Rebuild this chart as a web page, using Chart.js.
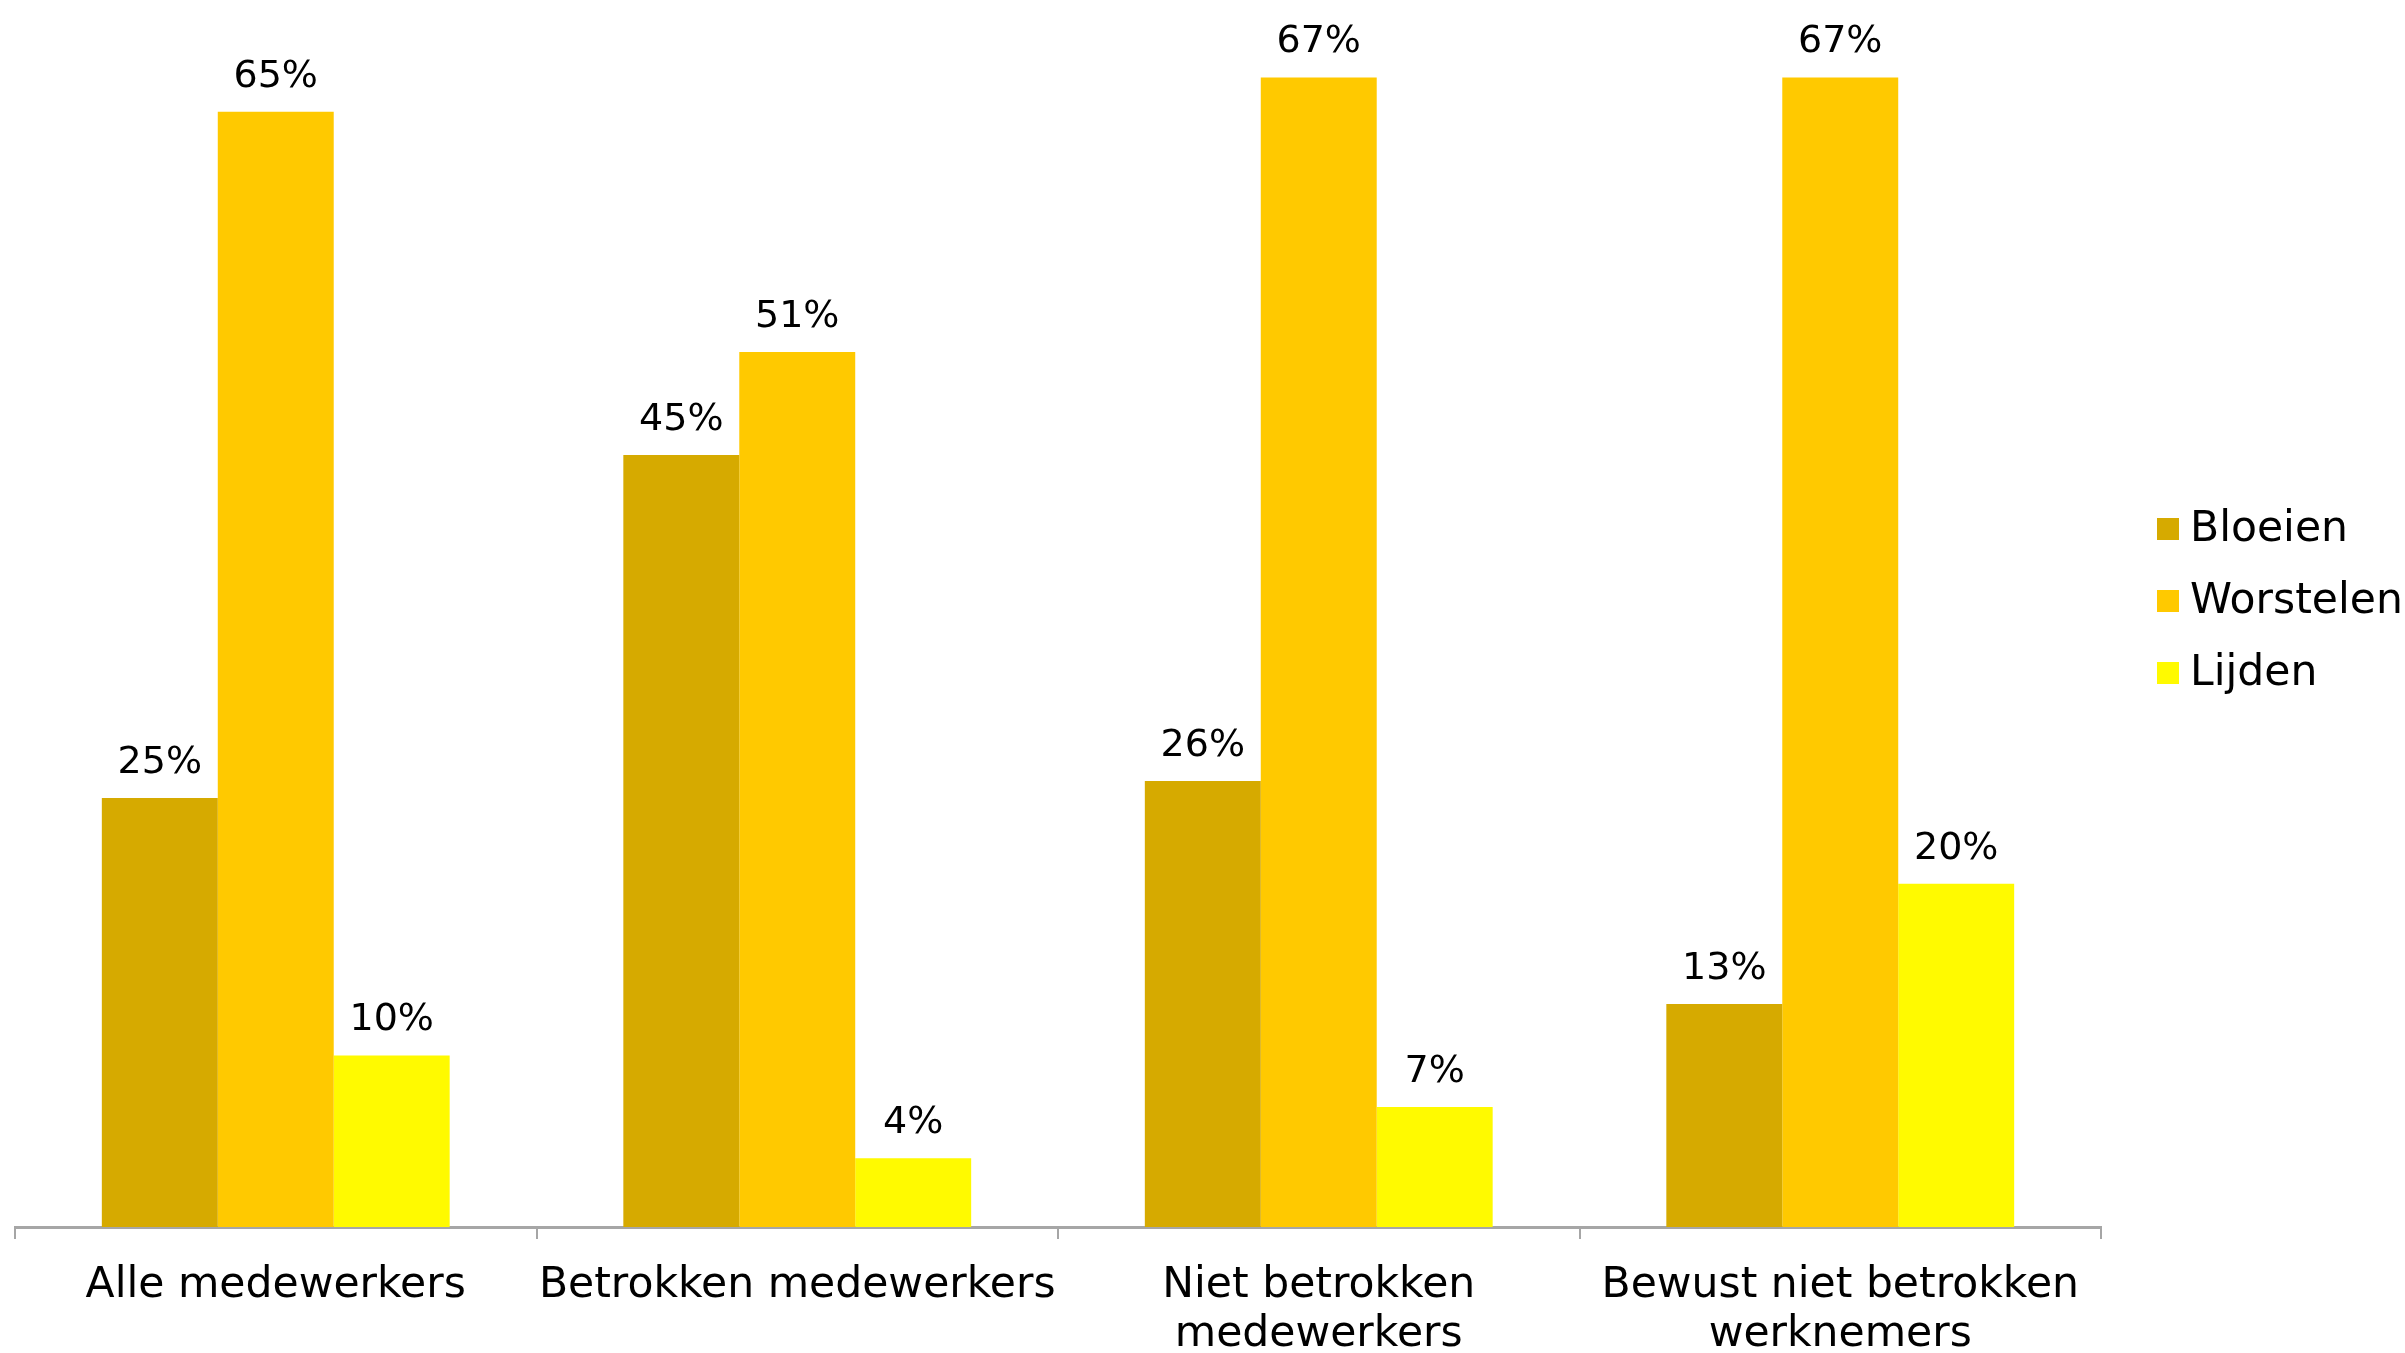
<!DOCTYPE html>
<html lang="nl">
<head>
<meta charset="utf-8">
<title>Bloeien, worstelen, lijden</title>
<script src="https://cdn.jsdelivr.net/npm/chart.js@4.4.1/dist/chart.umd.min.js"></script>
<style>
    html, body { margin: 0; padding: 0; background: #ffffff; }
    #wrap { width: 2405px; height: 1353px; }
</style>
</head>
<body>
<div id="wrap"><canvas id="chartGroups" width="2405" height="1353"></canvas></div>
<script>
// Data
const categories = [
    'Alle medewerkers',
    'Betrokken medewerkers',
    ['Niet betrokken', 'medewerkers'],
    ['Bewust niet betrokken', 'werknemers']
];
const seriesNames = ['Bloeien', 'Worstelen', 'Lijden'];
const bloeien = [25, 45, 26, 13];
const worstelen = [65, 51, 67, 67];
const lijden = [10, 4, 7, 20];
const seriesColors = ['#D6AA00', '#FFC900', '#FFFA00'];

const FONT = "'DejaVu Sans', Verdana, sans-serif";

document.addEventListener('DOMContentLoaded', function () {

    // Percentages above each bar
    const valueLabels = {
        id: 'valueLabels',
        afterDatasetsDraw(chart) {
            const ctx = chart.ctx;
            ctx.save();
            ctx.font = '38px ' + FONT;
            ctx.fillStyle = '#000000';
            ctx.textAlign = 'center';
            ctx.textBaseline = 'alphabetic';
            chart.data.datasets.forEach((ds, i) => {
                chart.getDatasetMeta(i).data.forEach((bar, j) => {
                    ctx.fillText(ds.data[j] + '%', bar.x, bar.y - 25);
                });
            });
            ctx.restore();
        }
    };

    // Legend on the right side
    const sideLegend = {
        id: 'sideLegend',
        afterDraw(chart) {
            const ctx = chart.ctx;
            const left = chart.chartArea.right + 56;
            ctx.save();
            ctx.font = '42.5px ' + FONT;
            ctx.textBaseline = 'middle';
            ctx.textAlign = 'left';
            chart.data.datasets.forEach((ds, i) => {
                const y = 529 + i * 72;
                ctx.fillStyle = ds.backgroundColor;
                ctx.fillRect(left, y - 11, 22, 22);
                ctx.fillStyle = '#000000';
                ctx.fillText(ds.label, left + 33, y + 1);
            });
            ctx.restore();
        }
    };

    const el = document.getElementById('chartGroups');
    new Chart(el.getContext('2d'), {
        type: 'bar',
        data: {
            labels: categories,
            datasets: [
                { label: seriesNames[0], data: bloeien, backgroundColor: seriesColors[0] },
                { label: seriesNames[1], data: worstelen, backgroundColor: seriesColors[1] },
                { label: seriesNames[2], data: lijden, backgroundColor: seriesColors[2] }
            ]
        },
        options: {
            responsive: false,
            animation: false,
            categoryPercentage: 0.667,
            barPercentage: 1,
            layout: { padding: { top: 26, left: 15, right: 304, bottom: 0 } },
            plugins: {
                legend: { display: false },
                tooltip: { enabled: false }
            },
            scales: {
                y: { display: false, min: 0, max: 70 },
                x: {
                    afterFit: scale => { scale.height = 126; },
                    border: { display: true, color: '#A6A6A6', width: 3 },
                    grid: {
                        offset: true,
                        drawOnChartArea: false,
                        drawTicks: true,
                        tickLength: 12,
                        color: '#A6A6A6',
                        lineWidth: 2
                    },
                    ticks: {
                        color: '#000000',
                        font: { family: FONT, size: 42.5, lineHeight: 1.16 },
                        padding: 22,
                        maxRotation: 0,
                        autoSkip: false
                    }
                }
            }
        },
        plugins: [valueLabels, sideLegend]
    });
});
</script>
</body>
</html>
